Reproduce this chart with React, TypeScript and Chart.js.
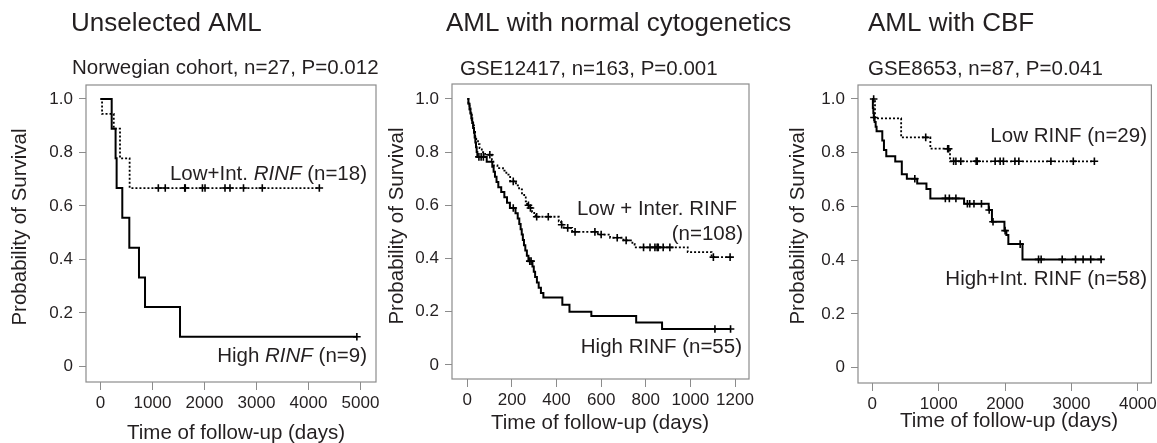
import React, { useEffect, useRef } from 'react';
import { Chart, registerables } from 'chart.js';
Chart.register(...registerables);

const FONT = '"Liberation Sans", Arial, Helvetica, sans-serif';
const TEXT_COLOR = '#231f20';
const FRAME_COLOR = '#8c8c8c';
const W = 1157;
const H = 443;

// ---------- shared tick labels ----------
const yTickValues = [0, 0.2, 0.4, 0.6, 0.8, 1.0];
const yTickLabels = ['0', '0.2', '0.4', '0.6', '0.8', '1.0'];

// ---------- Panel 1: Unselected AML ----------
const p1XTicks = [0, 1000, 2000, 3000, 4000, 5000];
const p1HighTimes = [0, 215, 290, 310, 419, 554, 740, 856, 1529];
const p1HighSurv = [1, 0.889, 0.778, 0.667, 0.556, 0.444, 0.333, 0.222, 0.111];
const p1HighCensor = [4930];
const p1LowTimes = [0, 30, 255, 375, 560];
const p1LowSurv = [1, 0.944, 0.889, 0.778, 0.667];
const p1LowCensor = [1112, 1245, 1620, 1630, 1960, 2010, 2394, 2490, 2750, 3111, 4208];

// ---------- Panel 2: AML with normal cytogenetics ----------
const p2XTicks = [0, 200, 400, 600, 800, 1000, 1200];
const p2HighTimes = [0, 5, 10, 14, 18, 22, 26, 30, 33, 36, 39, 42, 45, 87, 112, 118, 124, 131, 139, 152, 166, 178, 191, 216, 226, 233, 239, 244, 249, 254, 260, 267, 274, 292, 298, 304, 312, 320, 330, 341, 426, 458, 556, 757, 873];
const p2HighSurv = [1, 0.982, 0.964, 0.945, 0.927, 0.909, 0.891, 0.873, 0.855, 0.836, 0.818, 0.8, 0.782, 0.764, 0.745, 0.726, 0.707, 0.688, 0.668, 0.65, 0.63, 0.61, 0.59, 0.57, 0.55, 0.53, 0.51, 0.49, 0.47, 0.45, 0.43, 0.41, 0.39, 0.37, 0.35, 0.33, 0.31, 0.29, 0.27, 0.253, 0.226, 0.2, 0.184, 0.159, 0.135];
const p2HighCensor = [52, 62, 72, 206, 280, 286, 1110, 1180];
const p2LowTimes = [0, 5, 10, 15, 20, 25, 30, 35, 40, 48, 55, 65, 80, 110, 117, 135, 160, 175, 192, 218, 232, 245, 255, 262, 268, 276, 290, 300, 305, 410, 420, 432, 470, 585, 640, 700, 740, 750, 988, 1095];
const p2LowSurv = [1, 0.98, 0.96, 0.94, 0.92, 0.9, 0.88, 0.86, 0.845, 0.83, 0.815, 0.8, 0.79, 0.77, 0.75, 0.74, 0.73, 0.715, 0.69, 0.675, 0.66, 0.645, 0.63, 0.615, 0.6, 0.59, 0.575, 0.563, 0.557, 0.54, 0.527, 0.515, 0.5, 0.49, 0.478, 0.468, 0.455, 0.442, 0.424, 0.405];
const p2LowCensor = [101, 206, 274, 283, 311, 363, 423, 450, 483, 572, 600, 672, 712, 790, 819, 841, 851, 856, 878, 908, 1103, 1178];

// ---------- Panel 3: AML with CBF ----------
const p3XTicks = [0, 1000, 2000, 3000, 4000];
const p3LowTimes = [0, 40, 434, 874, 1170];
const p3LowSurv = [1, 0.928, 0.857, 0.815, 0.768];
const p3LowCensor = [20, 804, 1135, 1150, 1224, 1259, 1333, 1564, 1580, 1850, 1925, 1975, 2148, 2207, 2690, 3027, 3345];
const p3HighTimes = [0, 8, 15, 22, 35, 50, 64, 150, 175, 210, 345, 444, 520, 676, 815, 874, 1382, 1753, 1802, 1990, 2019, 2049, 2262];
const p3HighSurv = [1, 0.966, 0.948, 0.931, 0.914, 0.897, 0.88, 0.845, 0.81, 0.787, 0.767, 0.72, 0.703, 0.685, 0.665, 0.63, 0.61, 0.587, 0.543, 0.51, 0.494, 0.46, 0.403];
const p3HighCensor = [25, 640, 1100, 1160, 1259, 1432, 1467, 1531, 1644, 1760, 1818, 2000, 2227, 2504, 2543, 2860, 3061, 3175, 3290, 3446];

interface Curve { times: number[]; surv: number[]; censor: number[]; dashed: boolean }
interface Seg { text: string; italic?: boolean }
interface Note { segs: Seg[]; right: number; y: number }
interface PanelCfg {
  L: number; R: number; T: number; B: number;
  xMin: number; xMax: number; yMin: number; yMax: number;
  xTicks: number[];
  curves: Curve[];
  title: string; titleX: number; titleY: number;
  subtitle: string; subX: number; subY: number;
  yTitleX: number; yTitleY: number; xTitleX: number; xTitleY: number;
  notes: Note[];
}

const panels: PanelCfg[] = [
  {
    L: 86, R: 376, T: 85, B: 382,
    xMin: -279, xMax: 5298, yMin: -0.058, yMax: 1.0523,
    xTicks: p1XTicks,
    curves: [
      { times: p1LowTimes, surv: p1LowSurv, censor: p1LowCensor, dashed: true },
      { times: p1HighTimes, surv: p1HighSurv, censor: p1HighCensor, dashed: false },
    ],
    title: 'Unselected AML', titleX: 71, titleY: 24,
    subtitle: 'Norwegian cohort, n=27, P=0.012', subX: 72, subY: 68.5,
    yTitleX: 20, yTitleY: 227, xTitleX: 236, xTitleY: 433,
    notes: [
      { segs: [{ text: 'Low+Int. ' }, { text: 'RINF', italic: true }, { text: ' (n=18)' }], right: 367, y: 174.5 },
      { segs: [{ text: 'High ' }, { text: 'RINF', italic: true }, { text: ' (n=9)' }], right: 367, y: 356.7 },
    ],
  },
  {
    L: 452, R: 749, T: 84, B: 379,
    xMin: -68.6, xMax: 1262.7, yMin: -0.053, yMax: 1.056,
    xTicks: p2XTicks,
    curves: [
      { times: p2LowTimes, surv: p2LowSurv, censor: p2LowCensor, dashed: true },
      { times: p2HighTimes, surv: p2HighSurv, censor: p2HighCensor, dashed: false },
    ],
    title: 'AML with normal cytogenetics', titleX: 446, titleY: 24.3,
    subtitle: 'GSE12417, n=163, P=0.001', subX: 460, subY: 69,
    yTitleX: 397, yTitleY: 226, xTitleX: 600, xTitleY: 423,
    notes: [
      { segs: [{ text: 'Low + Inter. RINF' }], right: 737, y: 209 },
      { segs: [{ text: '(n=108)' }], right: 743, y: 234 },
      { segs: [{ text: 'High RINF (n=55)' }], right: 742, y: 347 },
    ],
  },
  {
    L: 858, R: 1155, T: 85, B: 383,
    xMin: -216, xMax: 4204, yMin: -0.057, yMax: 1.052,
    xTicks: p3XTicks,
    curves: [
      { times: p3LowTimes, surv: p3LowSurv, censor: p3LowCensor, dashed: true },
      { times: p3HighTimes, surv: p3HighSurv, censor: p3HighCensor, dashed: false },
    ],
    title: 'AML with CBF', titleX: 868, titleY: 24,
    subtitle: 'GSE8653, n=87, P=0.041', subX: 868, subY: 69,
    yTitleX: 798, yTitleY: 226, xTitleX: 1009, xTitleY: 421.7,
    notes: [
      { segs: [{ text: 'Low RINF (n=29)' }], right: 1147, y: 136.7 },
      { segs: [{ text: 'High+Int. RINF (n=58)' }], right: 1147, y: 279 },
    ],
  },
];

function stepAt(times: number[], surv: number[], t: number): number {
  let s = surv[0];
  for (let i = 0; i < times.length; i++) if (times[i] <= t) s = surv[i];
  return s;
}

function fontStr(size: number, italic = false) {
  return `${italic ? 'italic ' : ''}${size}px ${FONT}`;
}

function makeTextPlugin(cfg: PanelCfg) {
  return {
    id: 'panelText',
    afterDraw(chart: any) {
      const ctx: CanvasRenderingContext2D = chart.ctx;
      const a = chart.chartArea;
      ctx.save();
      // frame
      ctx.strokeStyle = FRAME_COLOR;
      ctx.lineWidth = 1.2;
      ctx.strokeRect(a.left, a.top, a.right - a.left, a.bottom - a.top);
      ctx.fillStyle = TEXT_COLOR;
      ctx.textBaseline = 'middle';
      // title
      ctx.textAlign = 'left';
      ctx.font = fontStr(26);
      ctx.fillText(cfg.title, cfg.titleX, cfg.titleY);
      ctx.font = fontStr(20.5);
      ctx.fillText(cfg.subtitle, cfg.subX, cfg.subY);
      // x title
      ctx.textAlign = 'center';
      ctx.fillText('Time of follow-up (days)', cfg.xTitleX, cfg.xTitleY);
      // y title
      ctx.save();
      ctx.translate(cfg.yTitleX, cfg.yTitleY);
      ctx.rotate(-Math.PI / 2);
      ctx.fillText('Probability of Survival', 0, 0);
      ctx.restore();
      // notes
      ctx.textAlign = 'left';
      for (const n of cfg.notes) {
        let total = 0;
        for (const s of n.segs) {
          ctx.font = fontStr(20.5, !!s.italic);
          total += ctx.measureText(s.text).width;
        }
        let x = n.right - total;
        for (const s of n.segs) {
          ctx.font = fontStr(20.5, !!s.italic);
          ctx.fillText(s.text, x, n.y);
          x += ctx.measureText(s.text).width;
        }
      }
      ctx.restore();
    },
  };
}

function Panel({ cfg }: { cfg: PanelCfg }) {
  const ref = useRef<HTMLCanvasElement | null>(null);
  useEffect(() => {
    if (!ref.current) return;
    const datasets: any[] = [];
    for (const c of cfg.curves) {
      const pts = c.times.map((t, i) => ({ x: t, y: c.surv[i] }));
      const end = Math.max(c.times[c.times.length - 1], ...c.censor);
      pts.push({ x: end, y: c.surv[c.surv.length - 1] });
      datasets.push({
        data: pts,
        stepped: 'before',
        borderColor: '#000',
        borderWidth: c.dashed ? 1.8 : 2,
        borderDash: c.dashed ? [2, 2] : [],
        pointRadius: 0,
        fill: false,
        tension: 0,
      });
      datasets.push({
        data: c.censor.map((t) => ({ x: t, y: stepAt(c.times, c.surv, t) })),
        showLine: false,
        pointStyle: 'cross',
        pointRadius: 3.8,
        pointBorderWidth: 1.6,
        pointBorderColor: '#000',
        borderColor: '#000',
      });
    }
    const chart = new Chart(ref.current, {
      type: 'line',
      data: { datasets },
      plugins: [makeTextPlugin(cfg)],
      options: {
        responsive: false,
        animation: false,
        devicePixelRatio: 1,
        events: [],
        layout: { padding: { left: cfg.L - 80, top: cfg.T, right: W - cfg.R, bottom: 0 } },
        plugins: { legend: { display: false }, tooltip: { enabled: false }, title: { display: false } },
        scales: {
          x: {
            type: 'linear',
            min: cfg.xMin,
            max: cfg.xMax,
            afterBuildTicks: (s: any) => { s.ticks = cfg.xTicks.map((v) => ({ value: v })); },
            ticks: {
              font: { family: FONT, size: 17 },
              color: TEXT_COLOR,
              padding: 3,
              maxRotation: 0,
              minRotation: 0,
              autoSkip: false,
              callback: (v: any) => String(v),
            },
            grid: { drawOnChartArea: false, drawTicks: true, tickLength: 8, color: FRAME_COLOR, lineWidth: 1 },
            border: { display: false },
            afterFit: (s: any) => { s.height = H - cfg.B; s.paddingLeft = 0; s.paddingRight = 0; },
          },
          y: {
            type: 'linear',
            min: cfg.yMin,
            max: cfg.yMax,
            afterBuildTicks: (s: any) => { s.ticks = yTickValues.map((v) => ({ value: v })); },
            ticks: {
              font: { family: FONT, size: 17 },
              color: TEXT_COLOR,
              padding: 6,
              autoSkip: false,
              callback: (_v: any, i: number) => yTickLabels[i],
            },
            grid: { drawOnChartArea: false, drawTicks: true, tickLength: 7, color: FRAME_COLOR, lineWidth: 1 },
            border: { display: false },
            afterFit: (s: any) => { s.width = 80; s.paddingTop = 0; s.paddingBottom = 0; },
          },
        },
      } as any,
    });
    return () => chart.destroy();
  }, [cfg]);
  return (
    <canvas
      ref={ref}
      width={W}
      height={H}
      style={{ position: 'absolute', left: 0, top: 0, width: W, height: H }}
    />
  );
}

export default function App() {
  return (
    <div style={{ position: 'absolute', left: 0, top: 0, width: W, height: H, background: '#fff' }}>
      {panels.map((p, i) => (
        <Panel key={i} cfg={p} />
      ))}
    </div>
  );
}
